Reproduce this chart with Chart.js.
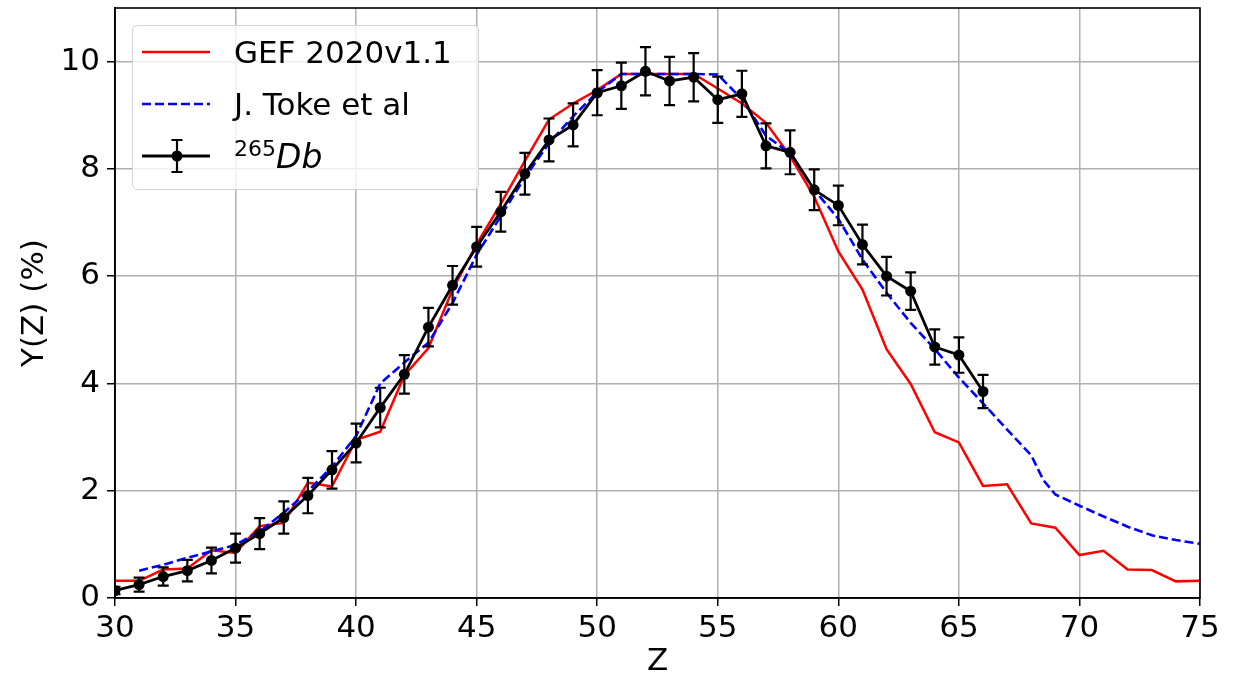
<!DOCTYPE html>
<html>
<head>
<meta charset="utf-8">
<script src="https://cdn.jsdelivr.net/npm/chart.js@4"></script>
<style>
  body { margin: 0; background: #fff; font-family: "DejaVu Sans", sans-serif; }
  #wrap { position: relative; width: 1238px; height: 677px; }
  #legend {
    position: absolute; left: 132px; top: 25px; width: 345px; height: 163px;
    border: 1.5px solid #d4d4d4; border-radius: 5px; background: rgba(255, 255, 255, 0.8);
  }
  .row { position: absolute; left: 0; height: 52px; display: flex; align-items: center; white-space: nowrap; }
  .row svg { margin-left: 9px; width: 68px; height: 52px; }
  .row .label { margin-left: 24px; font-size: 31px; color: #000; }
</style>
</head>
<body>
<div id="wrap">
  <canvas id="chart" width="1238" height="677"></canvas>
  <div id="legend">
    <div class="row" style="top:0px">
      <svg viewBox="0 0 68 52"><line x1="0" y1="26" x2="68" y2="26" stroke="red" stroke-width="2.5"/></svg>
      <span class="label">GEF 2020v1.1</span>
    </div>
    <div class="row" style="top:52px">
      <svg viewBox="0 0 68 52"><line x1="0" y1="26" x2="68" y2="26" stroke="blue" stroke-width="2.6" stroke-dasharray="9 4"/></svg>
      <span class="label">J. Toke et al</span>
    </div>
    <div class="row" style="top:104px">
      <svg viewBox="0 0 68 52">
        <line x1="0" y1="26" x2="68" y2="26" stroke="black" stroke-width="2.8"/>
        <path d="M35 10 V42 M29.5 10 H40.5 M29.5 42 H40.5" stroke="black" stroke-width="2.2" fill="none"/>
        <circle cx="35" cy="26" r="5.5" fill="black"/>
      </svg>
      <span class="label"><span style="font-size:22px; position:relative; top:-12px">265</span><span style="font-size:33px; font-style:italic">Db</span></span>
    </div>
  </div>
</div>
<script>
// GEF 2020v1.1 (red)
const zGEF = [30, 31, 32, 33, 34, 35, 36, 37, 38, 39, 40, 41, 42, 43, 44, 45, 46, 47, 48, 49, 50, 51, 52,
  53, 54, 55, 56, 57, 58, 59, 60, 61, 62, 63, 64, 65, 66, 67, 68, 69, 70, 71, 72, 73, 74, 75];
const yGEF = [0.32, 0.32, 0.53, 0.55, 0.89, 0.84, 1.34, 1.40, 2.15, 2.08, 2.95, 3.10, 4.15, 4.66, 5.75, 6.60,
  7.35, 8.15, 8.92, 9.22, 9.47, 9.77, 9.77, 9.77, 9.77, 9.50, 9.22, 8.86, 8.24, 7.48, 6.46, 5.75, 4.64, 3.99,
  3.09, 2.90, 2.09, 2.12, 1.39, 1.31, 0.80, 0.88, 0.53, 0.52, 0.31, 0.32];

// J. Toke et al (blue dashed)
const zToke = [31, 32, 33, 34, 35, 36, 37, 38, 39, 40, 41, 42, 43, 44, 45, 46, 47, 48, 49, 50, 51, 52, 53,
  54, 55, 56, 57, 58, 59, 60, 61, 62, 63, 64, 65, 66, 67, 68, 68.5, 69, 70, 71, 72, 73, 74, 75];
const yToke = [0.51, 0.62, 0.75, 0.87, 0.99, 1.24, 1.59, 1.99, 2.45, 3.02, 4.00, 4.39, 4.76, 5.50, 6.40,
  7.12, 7.84, 8.48, 8.98, 9.43, 9.77, 9.77, 9.77, 9.77, 9.76, 9.30, 8.62, 8.29, 7.61, 7.07, 6.31, 5.69, 5.13,
  4.64, 4.11, 3.63, 3.14, 2.66, 2.20, 1.93, 1.72, 1.52, 1.33, 1.17, 1.08, 1.01];

// 265Db measurement with errors
const zDb = [30, 31, 32, 33, 34, 35, 36, 37, 38, 39, 40, 41, 42, 43, 44, 45, 46, 47, 48, 49, 50, 51, 52,
  53, 54, 55, 56, 57, 58, 59, 60, 61, 62, 63, 64, 65, 66];
const yDb = [0.14, 0.25, 0.40, 0.51, 0.70, 0.93, 1.20, 1.50, 1.91, 2.39, 2.89, 3.55, 4.17, 5.05, 5.83, 6.55,
  7.20, 7.91, 8.54, 8.82, 9.42, 9.55, 9.82, 9.64, 9.71, 9.29, 9.40, 8.43, 8.31, 7.61, 7.32, 6.59, 6.00, 5.72,
  4.68, 4.53, 3.85];
const errDb = [0.07, 0.13, 0.17, 0.20, 0.24, 0.27, 0.29, 0.30, 0.33, 0.35, 0.36, 0.37, 0.36, 0.36, 0.36, 0.37,
  0.37, 0.39, 0.40, 0.40, 0.42, 0.43, 0.45, 0.45, 0.45, 0.43, 0.43, 0.42, 0.41, 0.38, 0.37, 0.37, 0.36, 0.35,
  0.33, 0.33, 0.31];

const fontFamily = 'DejaVu Sans';

function points(xs, ys) {
  return xs.map((x, i) => ({ x: x, y: ys[i] }));
}

// vertical error bars with caps, drawn through the chart scales
const errorBars = {
  id: 'errorBars',
  afterDatasetsDraw(chart) {
    const { ctx, chartArea, scales } = chart;
    ctx.save();
    ctx.beginPath();
    ctx.rect(chartArea.left, chartArea.top, chartArea.width, chartArea.height);
    ctx.clip();
    ctx.strokeStyle = 'black';
    ctx.lineWidth = 2.2;
    zDb.forEach((z, i) => {
      const x = scales.x.getPixelForValue(z);
      const top = scales.y.getPixelForValue(yDb[i] + errDb[i]);
      const bottom = scales.y.getPixelForValue(yDb[i] - errDb[i]);
      ctx.beginPath();
      ctx.moveTo(x, top);
      ctx.lineTo(x, bottom);
      ctx.moveTo(x - 5.5, top);
      ctx.lineTo(x + 5.5, top);
      ctx.moveTo(x - 5.5, bottom);
      ctx.lineTo(x + 5.5, bottom);
      ctx.stroke();
    });
    ctx.restore();
  }
};

// full box around the plot area
const frame = {
  id: 'frame',
  afterDatasetsDraw(chart) {
    const { ctx, chartArea } = chart;
    ctx.save();
    ctx.strokeStyle = 'black';
    ctx.lineWidth = 1.6;
    ctx.strokeRect(chartArea.left, chartArea.top, chartArea.width, chartArea.height);
    ctx.restore();
  }
};

new Chart(document.getElementById('chart'), {
  type: 'line',
  data: {
    datasets: [
      {
        label: 'GEF 2020v1.1',
        data: points(zGEF, yGEF),
        borderColor: 'red',
        borderWidth: 2.5,
        pointRadius: 0,
        order: 2
      },
      {
        label: 'J. Toke et al',
        data: points(zToke, yToke),
        borderColor: 'blue',
        borderWidth: 2.6,
        borderDash: [9, 4],
        pointRadius: 0,
        order: 1
      },
      {
        label: '265Db',
        data: points(zDb, yDb),
        borderColor: 'black',
        borderWidth: 2.8,
        pointRadius: 5.5,
        pointBorderWidth: 0,
        pointBackgroundColor: 'black',
        order: 0
      }
    ]
  },
  options: {
    responsive: false,
    animation: false,
    layout: { padding: { top: 8, right: 38, left: 0, bottom: 0 } },
    plugins: {
      legend: { display: false },
      tooltip: { enabled: false }
    },
    scales: {
      x: {
        type: 'linear',
        min: 30,
        max: 75,
        ticks: { stepSize: 5, color: 'black', padding: 4, font: { size: 31, family: fontFamily } },
        grid: { color: '#b0b0b0', lineWidth: 1.5, tickColor: 'black', tickLength: 8, tickWidth: 1.5 },
        border: { color: 'black', width: 1.6 },
        title: { display: true, text: 'Z', color: 'black', padding: 0, font: { size: 31, family: fontFamily, lineHeight: 1 } },
        afterFit: scale => {
          scale.height = 79;
          scale.paddingLeft = 0;
          scale.paddingRight = 0;
        }
      },
      y: {
        min: 0,
        max: 11,
        ticks: { stepSize: 2, includeBounds: false, color: 'black', padding: 7, font: { size: 31, family: fontFamily } },
        grid: { color: '#b0b0b0', lineWidth: 1.5, tickColor: 'black', tickLength: 8, tickWidth: 1.5 },
        border: { color: 'black', width: 1.6 },
        title: { display: true, text: 'Y(Z) (%)', color: 'black', padding: { top: 19, bottom: 0 }, font: { size: 31, family: fontFamily, lineHeight: 1 } },
        afterFit: scale => {
          scale.width = 115;
          scale.paddingTop = 0;
          scale.paddingBottom = 0;
        }
      }
    }
  },
  plugins: [errorBars, frame]
});
</script>
</body>
</html>
